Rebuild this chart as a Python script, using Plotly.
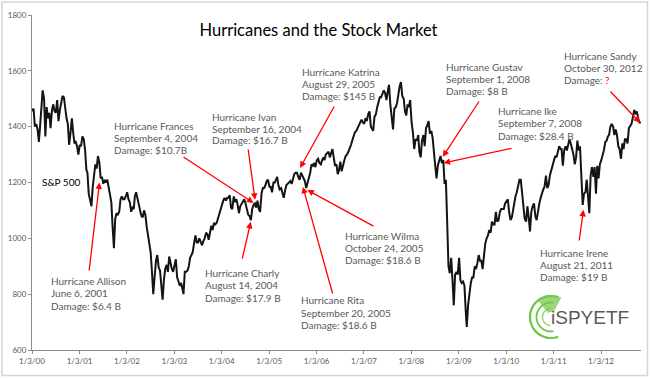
import numpy as np
import pandas as pd
import plotly.graph_objects as go

# ---------------- data: S&P 500 readings, three per month (~5th, 15th, 25th) ----------------
sp2000 = [1455, 1465, 1400, 1410, 1390, 1345, 1400, 1460, 1530, 1500, 1365, 1470,
          1430, 1450, 1395, 1460, 1480, 1455, 1450, 1495, 1420, 1460, 1490, 1510,
          1505, 1465, 1430, 1410, 1335, 1375, 1430, 1380, 1340, 1345, 1330, 1300]
sp2001 = [1335, 1330, 1365, 1355, 1315, 1245, 1235, 1160, 1140, 1115, 1185, 1230,
          1265, 1250, 1295, 1270, 1215, 1220, 1195, 1210, 1200, 1210, 1180, 1160,
          1130, 1040, 965, 1070, 1090, 1085, 1095, 1140, 1150, 1140, 1140, 1150]
sp2002 = [1165, 1140, 1130, 1095, 1110, 1105, 1150, 1165, 1140, 1125, 1100, 1080,
          1075, 1100, 1085, 1040, 1010, 980, 950, 880, 800, 865, 920, 940,
          895, 885, 830, 780, 850, 890, 905, 880, 935, 905, 890, 880]
sp2003 = [910, 925, 860, 840, 830, 840, 825, 800, 880, 880, 885, 900,
          930, 940, 950, 985, 1010, 985, 985, 1000, 985, 975, 990, 1000,
          1020, 1015, 995, 1030, 1045, 1030, 1055, 1050, 1055, 1070, 1085, 1100]
sp2004 = [1125, 1135, 1145, 1135, 1145, 1145, 1155, 1110, 1105, 1150, 1130, 1140,
          1120, 1090, 1115, 1125, 1135, 1140, 1125, 1105, 1085, 1080, 1065, 1105,
          1120, 1125, 1110, 1135, 1105, 1095, 1160, 1180, 1180, 1190, 1205, 1210]
sp2005 = [1185, 1185, 1165, 1200, 1200, 1210, 1220, 1190, 1175, 1180, 1165, 1145,
          1170, 1190, 1195, 1200, 1205, 1195, 1215, 1230, 1235, 1235, 1220, 1210,
          1235, 1225, 1215, 1205, 1180, 1195, 1220, 1235, 1265, 1260, 1270, 1255]
sp2006 = [1280, 1285, 1270, 1265, 1280, 1290, 1280, 1300, 1305, 1310, 1290, 1310,
          1320, 1290, 1260, 1265, 1230, 1245, 1275, 1240, 1265, 1280, 1295, 1300,
          1310, 1320, 1335, 1350, 1365, 1380, 1385, 1395, 1400, 1410, 1425, 1415]
sp2007 = [1410, 1430, 1420, 1445, 1455, 1400, 1390, 1385, 1435, 1445, 1470, 1490,
          1505, 1505, 1515, 1530, 1520, 1495, 1525, 1550, 1480, 1435, 1390, 1465,
          1470, 1485, 1520, 1545, 1560, 1510, 1500, 1455, 1440, 1480, 1470, 1495]
sp2008 = [1415, 1380, 1320, 1355, 1350, 1370, 1310, 1290, 1350, 1370, 1330, 1395,
          1405, 1420, 1375, 1385, 1360, 1320, 1260, 1215, 1260, 1280, 1295, 1270,
          1280, 1195, 1210, 1060, 900, 875, 930, 850, 760, 870, 880, 870]
sp2009 = [930, 850, 840, 845, 830, 740, 683, 760, 810, 840, 860, 860,
          900, 890, 910, 940, 920, 920, 890, 950, 980, 1000, 1010, 1030,
          1020, 1060, 1050, 1050, 1095, 1060, 1065, 1095, 1105, 1105, 1105, 1125]
sp2010 = [1135, 1140, 1095, 1065, 1075, 1105, 1130, 1150, 1165, 1190, 1210, 1210,
          1160, 1135, 1070, 1060, 1115, 1075, 1025, 1095, 1115, 1125, 1080, 1065,
          1105, 1125, 1145, 1165, 1175, 1185, 1225, 1180, 1190, 1225, 1240, 1255]
sp2011 = [1275, 1295, 1290, 1310, 1330, 1320, 1320, 1260, 1315, 1330, 1315, 1335,
          1355, 1340, 1320, 1300, 1265, 1290, 1350, 1315, 1330, 1200, 1120, 1160,
          1165, 1210, 1130, 1090, 1225, 1255, 1220, 1255, 1160, 1260, 1215, 1265]
sp2012 = [1280, 1295, 1315, 1345, 1350, 1365, 1370, 1400, 1410, 1400, 1370, 1390,
          1370, 1330, 1320, 1285, 1340, 1320, 1355, 1355, 1340, 1395, 1405, 1410,
          1435, 1460, 1445, 1455, 1430, 1415, 1415]

years = list(range(2000, 2013))
yearly = [sp2000, sp2001, sp2002, sp2003, sp2004, sp2005, sp2006,
          sp2007, sp2008, sp2009, sp2010, sp2011, sp2012]

tick_dates = ["%d-01-03" % y for y in years]
tick_labels = ["1/3/%02d" % (y % 100) for y in years]
y_ticks = [600, 800, 1000, 1200, 1400, 1600, 1800]

h_names = ["Allison", "Charly", "Frances", "Ivan", "Katrina", "Rita", "Wilma",
           "Gustav", "Ike", "Irene", "Sandy"]
h_dates = ["2001-06-06", "2004-08-14", "2004-09-04", "2004-09-16", "2005-08-29",
           "2005-09-20", "2005-10-24", "2008-09-01", "2008-09-07", "2011-08-21",
           "2012-10-30"]
h_date_text = ["June 6, 2001", "August 14, 2004", "September 4, 2004",
               "September 16, 2004", "August 29, 2005", "September 20, 2005",
               "October 24, 2005", "September 1, 2008", "September 7, 2008",
               "August 21, 2011", "October 30, 2012"]
h_damage = ["$6.4 B", "$17.9 B", "$10.7B", "$16.7 B", "$145 B", "$18.6 B",
            "$18.6 B", "$8 B", "$28.4 B", "$19 B", "?"]
h_tip_value = [1200, 1059, 1127, 1138, 1252, 1184, 1173, 1292, 1270, 1102, 1414]

# ---------------- layout helpers (pixel placement) ----------------
W, H = 650, 378
ML, MR, MT, MB = 32, 9, 15, 28
PW, PH = W - ML - MR, H - MT - MB
X0, X1 = pd.Timestamp("2000-01-03"), pd.Timestamp("2012-11-06")
Y0, Y1 = 600, 1800


def px_x(x):
    return (x - ML) / PW


def px_y(y):
    return (H - MB - y) / PH


def data_px(date, v):
    t = (pd.Timestamp(date) - X0) / (X1 - X0)
    return ML + t * PW, MT + (Y1 - v) / (Y1 - Y0) * PH


# label positions: (left x, first-line y) in pixels; arrow tails in pixels
label_pos = [(49, 281), (203, 273), (112, 126), (210, 117), (300, 72), (299, 300),
             (343, 236), (444, 67), (496, 111), (538, 253), (562, 56)]
line_gap = [12.4, 12.4, 12.0, 11.6, 12.2, 12.6, 12.2, 12.0, 12.4, 12.0, 12.0]
arrow_tail = [(89, 272), (242, 260), (182, 156), (248, 148), (335, 105), (333, 295),
              (375, 227), (480, 100), (513, 148), (579, 242), (609, 90)]

# ---------------- series ----------------
dates, values = [], []
for y, vals in zip(years, yearly):
    for i, v in enumerate(vals):
        dates.append(pd.Timestamp(year=y, month=i // 3 + 1, day=[5, 15, 25][i % 3]))
        values.append(v)

fig = go.Figure()
fig.add_trace(go.Scatter(x=dates, y=values, mode="lines",
                         line=dict(color="#141414", width=2),
                         hoverinfo="skip", showlegend=False))

FONT = "Lato, 'Open Sans', sans-serif"
GRAY = "#595959"
LABEL_SIZE = 10
ann = []

# hurricane labels and arrows
for k in range(len(h_names)):
    lx, ly = label_pos[k]
    dmg = h_damage[k]
    if dmg == "?":
        dmg = "<span style='color:#ff0000'>?</span>"
    lines = ["Hurricane " + h_names[k], h_date_text[k], "Damage: " + dmg]
    for j, t in enumerate(lines):
        ann.append(dict(x=px_x(lx), y=px_y(ly + j * line_gap[k]), xref="paper", yref="paper",
                        text=t, showarrow=False, xanchor="left", yanchor="middle",
                        font=dict(family=FONT, size=LABEL_SIZE, color=GRAY)))
    tx, ty = data_px(h_dates[k], h_tip_value[k])
    ax_, ay_ = arrow_tail[k]
    ann.append(dict(x=h_dates[k], y=h_tip_value[k], xref="x", yref="y", text="",
                    showarrow=True, ax=ax_ - tx, ay=ay_ - ty, axref="pixel", ayref="pixel",
                    arrowcolor="#ff0000", arrowhead=2, arrowsize=1, arrowwidth=1.3,
                    standoff=0, startstandoff=0))

ann.append(dict(x=px_x(40), y=px_y(182), xref="paper", yref="paper", text="S&P 500",
                showarrow=False, xanchor="left", yanchor="middle",
                font=dict(family=FONT, size=LABEL_SIZE, color="#000000")))

# logo text
ann.append(dict(x=px_x(590), y=px_y(317), xref="paper", yref="paper", text="iSPYETF",
                showarrow=False, xanchor="center", yanchor="middle",
                font=dict(family="'Liberation Sans', Arial, sans-serif", size=19, color="#5a5a5a")))

shapes = []


def arc_path(r, a0, a1, n=40):
    a = np.radians(np.linspace(a0, a1, n))
    pts = ["%.2f,%.2f" % (r * np.cos(t), r * np.sin(t)) for t in a]
    return "M" + " L".join(pts)


def wedge_path(r0, r1, a0, a1, n=20):
    a = np.radians(np.linspace(a0, a1, n))
    outer = ["%.2f,%.2f" % (r1 * np.cos(t), r1 * np.sin(t)) for t in a]
    inner = ["%.2f,%.2f" % (r0 * np.cos(t), r0 * np.sin(t)) for t in a[::-1]]
    return "M" + " L".join(outer + inner) + " Z"


cx, cy = px_x(551), px_y(317)
for path, col, wdt in [(arc_path(21, 70, 290), "#6cc644", 2.2),
                       (arc_path(14.5, 80, 280), "#6cc644", 1.8),
                       (arc_path(8.5, 95, 265), "#8fd46e", 1.4)]:
    shapes.append(dict(type="path", xref="paper", yref="paper", xsizemode="pixel",
                       ysizemode="pixel", xanchor=cx, yanchor=cy, path=path,
                       line=dict(color=col, width=wdt)))
shapes.append(dict(type="path", xref="paper", yref="paper", xsizemode="pixel",
                   ysizemode="pixel", xanchor=cx, yanchor=cy,
                   path=wedge_path(5, 22, 62, 128), fillcolor="rgba(120,200,80,0.75)",
                   line=dict(width=0)))

# outer frame
shapes.append(dict(type="rect", xref="paper", yref="paper", x0=px_x(2), x1=px_x(647.5),
                   y0=px_y(375.5), y1=px_y(2), line=dict(color="#d6d6d6", width=1.6),
                   layer="below"))

fig.update_layout(
    width=W, height=H,
    margin=dict(l=ML, r=MR, t=MT, b=MB, pad=0),
    paper_bgcolor="white", plot_bgcolor="white",
    title=dict(text="Hurricanes and the Stock Market", x=318.5 / W, xref="container",
               xanchor="center", y=1 - 30 / H, yref="container", yanchor="middle",
               font=dict(family=FONT, size=16.5, color="#000000")),
    xaxis=dict(type="date", range=[X0, X1], tickvals=tick_dates, ticktext=tick_labels,
               showgrid=False, zeroline=False, showline=True, linecolor="#8c8c8c",
               linewidth=1, ticks="outside", ticklen=3, tickcolor="#8c8c8c",
               tickfont=dict(family=FONT, size=8, color=GRAY), fixedrange=True),
    yaxis=dict(range=[Y0, Y1], tickvals=y_ticks, showgrid=False, zeroline=False,
               showline=True, linecolor="#8c8c8c", linewidth=1, ticks="outside",
               ticklen=3, tickcolor="#8c8c8c",
               tickfont=dict(family=FONT, size=8, color=GRAY), fixedrange=True),
    annotations=ann,
    shapes=shapes,
    showlegend=False,
)

fig.write_html("out.html", config={"displayModeBar": False},
               post_script="document.body.style.margin='0';")
